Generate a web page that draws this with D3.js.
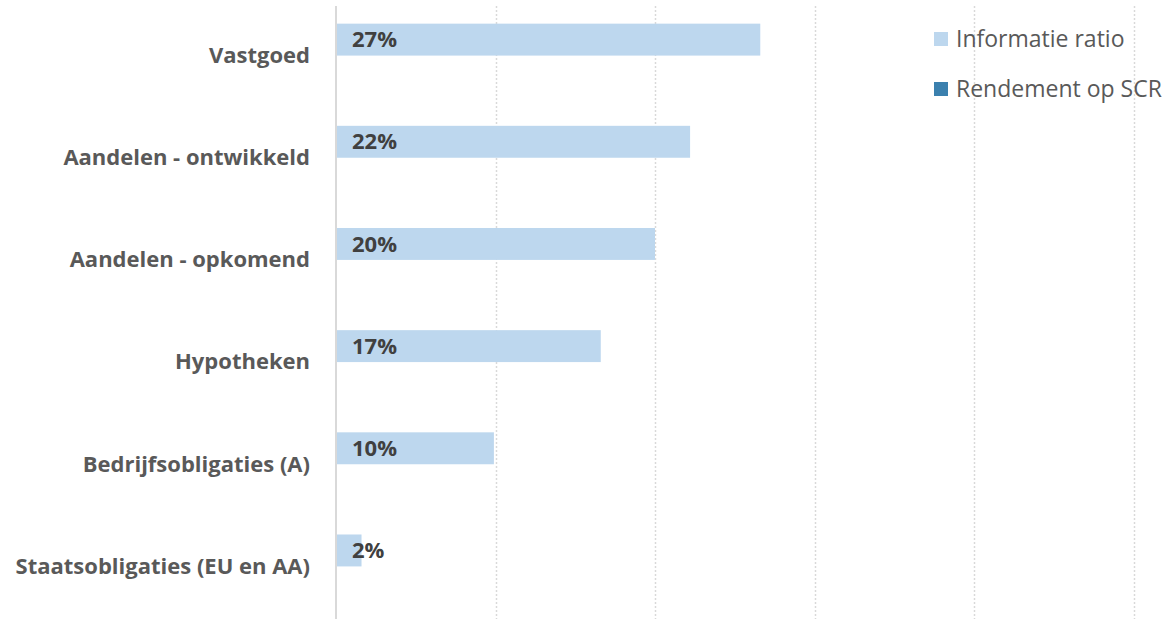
<!DOCTYPE html>
<html>
<head>
<meta charset="utf-8">
<script src="https://cdn.jsdelivr.net/npm/d3@7"></script>
<style>
    body { margin: 0; background: #fff; }
    svg { display: block; font-family: "Open Sans", sans-serif; }
</style>
</head>
<body>
<div id="container"></div>
<script>
// data
var categories = ["Vastgoed", "Aandelen - ontwikkeld", "Aandelen - opkomend", "Hypotheken", "Bedrijfsobligaties (A)", "Staatsobligaties (EU en AA)"]
var informatieRatio = [0.266, 0.222, 0.200, 0.166, 0.099, 0.016]
var rendementSCR = [0, 0, 0, 0, 0, 0]
var seriesNames = ["Informatie ratio", "Rendement op SCR"]
var gridTicks = [0.1, 0.2, 0.3, 0.4, 0.5]

main()

function main() {
    const width = 1164
    const height = 619
    const marginLeft = 336
    const plotRight = 1133.5
    const plotTop = 4.5
    const plotBottom = 617.5
    const colors = ["#bdd7ee", "#3b80ae"]

    const x = d3.scaleLinear()
        .domain([0, 0.5])
        .range([marginLeft, plotRight])

    const y = d3.scaleBand()
        .domain(categories)
        .range([plotTop, plotBottom])

    // two series slots inside each category, Excel style gap
    const ySub = d3.scaleBand()
        .domain(seriesNames)
        .range([0, y.bandwidth()])
        .paddingOuter(0.6)

    const svg = d3.create("svg")
        .attr("width", width)
        .attr("height", height)

    // dotted gridlines
    svg.append("g")
        .selectAll("line")
        .data(gridTicks)
        .enter()
        .append("line")
        .attr("x1", d => Math.round(x(d)) + 0.5)
        .attr("x2", d => Math.round(x(d)) + 0.5)
        .attr("y1", 6)
        .attr("y2", height)
        .attr("stroke", "#d9d9d9")
        .attr("stroke-width", 1.5)
        .attr("stroke-dasharray", "2,2")

    var rows = categories.map((c, i) => ({cat: c, values: [informatieRatio[i], rendementSCR[i]]}))

    // bars
    seriesNames.forEach((s, si) => {
        svg.append("g")
            .selectAll("rect")
            .data(rows)
            .enter()
            .filter(d => d.values[si] > 0)
            .append("rect")
            .attr("x", x(0))
            .attr("y", d => y(d.cat) + ySub(s))
            .attr("width", d => x(d.values[si]) - x(0))
            .attr("height", ySub.bandwidth())
            .attr("fill", colors[si])
    })

    // value labels, inside base
    svg.append("g")
        .selectAll("text")
        .data(rows)
        .enter()
        .append("text")
        .attr("x", x(0) + 16)
        .attr("y", d => y(d.cat) + ySub(seriesNames[0]) + ySub.bandwidth() / 2)
        .attr("dy", "0.35em")
        .attr("fill", "#404040")
        .style("font-size", "22px")
        .style("font-weight", "bold")
        .text(d => Math.round(d.values[0] * 100) + "%")

    // category axis
    svg.append("line")
        .attr("x1", x(0))
        .attr("x2", x(0))
        .attr("y1", 6)
        .attr("y2", height)
        .attr("stroke", "#d9d9d9")
        .attr("stroke-width", 2)

    svg.append("g")
        .selectAll("text")
        .data(categories)
        .enter()
        .append("text")
        .attr("x", 310)
        .attr("y", d => y(d) + y.bandwidth() / 2)
        .attr("dy", "0.33em")
        .attr("text-anchor", "end")
        .attr("fill", "#595959")
        .style("font-size", "22px")
        .style("font-weight", "bold")
        .text(d => d)

    // legend
    const legend = svg.append("g")
        .selectAll("g")
        .data(seriesNames)
        .enter()
        .append("g")
        .attr("transform", (d, i) => `translate(934,${39 + i * 50})`)

    legend.append("rect")
        .attr("x", 0)
        .attr("y", -7)
        .attr("width", 14)
        .attr("height", 14)
        .attr("fill", (d, i) => colors[i])

    legend.append("text")
        .attr("x", 22)
        .attr("dy", "0.35em")
        .attr("fill", "#595959")
        .style("font-size", "23px")
        .text(d => d)

    container.append(svg.node())
}
</script>
</body>
</html>
